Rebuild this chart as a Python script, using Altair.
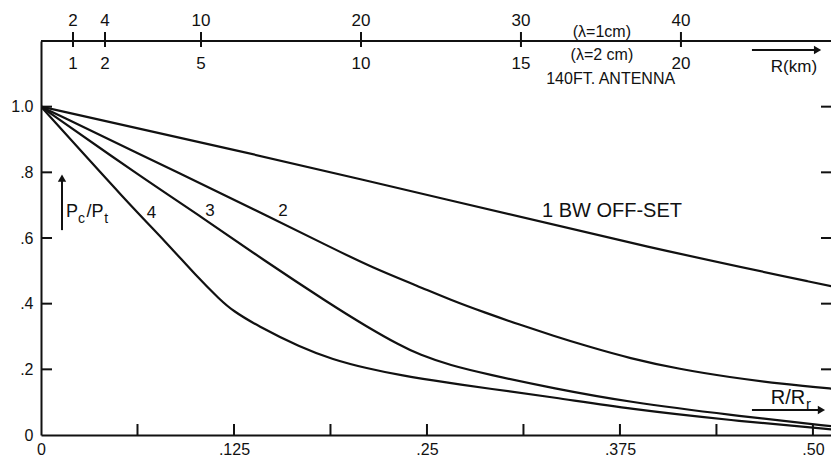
import altair as alt
import pandas as pd

# ---------------- data ----------------
R_1BW = [0, 0.122, 0.265, 0.394, 0.517]
P_1BW = [1.0, 0.873, 0.715, 0.570, 0.448]

R_2 = [0, 0.0965, 0.148, 0.187, 0.215, 0.245, 0.265, 0.288, 0.310, 0.332, 0.354, 0.381, 0.414, 0.446, 0.479, 0.517]
P_2 = [1.0, 0.782, 0.664, 0.573, 0.509, 0.452, 0.412, 0.372, 0.336, 0.302, 0.270, 0.234, 0.200, 0.176, 0.156, 0.139]

R_3 = [0, 0.066, 0.105, 0.144, 0.187, 0.211, 0.2325, 0.245, 0.265, 0.289, 0.332, 0.381, 0.446, 0.517]
P_3 = [1.0, 0.782, 0.661, 0.533, 0.400, 0.330, 0.273, 0.245, 0.212, 0.185, 0.142, 0.100, 0.061, 0.024]

R_4 = [0, 0.0576, 0.0803, 0.101, 0.116, 0.124, 0.140, 0.168, 0.189, 0.211, 0.2325, 0.265, 0.289, 0.332, 0.381, 0.446, 0.517]
P_4 = [1.0, 0.700, 0.591, 0.482, 0.412, 0.379, 0.333, 0.267, 0.230, 0.203, 0.182, 0.158, 0.142, 0.115, 0.079, 0.045, 0.015]

BOTTOM_VALUES = [0, 0.125, 0.25, 0.375, 0.5]
BOTTOM_LABELS = ["0", ".125", ".25", ".375", ".50"]
BOTTOM_TICKS = [0.0625, 0.125, 0.1875, 0.25, 0.3125, 0.375, 0.4375, 0.5]

LEFT_VALUES = [0, 0.2, 0.4, 0.6, 0.8, 1.0]
LEFT_LABELS = ["0", ".2", ".4", ".6", ".8", "1.0"]
SIDE_TICKS = [0.2, 0.4, 0.6, 0.8, 1.0]

KM_1CM = [2, 4, 10, 20, 30, 40]      # upper labels (lambda = 1 cm)
KM_2CM = [1, 2, 5, 10, 15, 20]       # lower labels (lambda = 2 cm)
KM_PER_RR_1CM = 96.5                 # km per unit R/Rr for lambda = 1 cm

# ---------------- layout ----------------
W, H = 790, 394
XMAX = 0.5117
YMAX = 1.2
FONT = "Liberation Sans"
INK = "#111111"


def label_expr(values, labels):
    parts = [f"abs(datum.value - {v}) < 1e-6 ? '{l}'" for v, l in zip(values, labels)]
    return " : ".join(parts) + " : ''"


X_SCALE = alt.Scale(domain=[0, XMAX], nice=False, zero=False)
Y_SCALE = alt.Scale(domain=[0, YMAX], nice=False, zero=False)
X_AXIS = alt.Axis(values=BOTTOM_VALUES, labelExpr=label_expr(BOTTOM_VALUES, BOTTOM_LABELS),
                  tickSize=0, domain=True, domainWidth=2, domainColor=INK, grid=False,
                  labelPadding=6, labelFontSize=16, labelFont=FONT, labelColor=INK,
                  labelFlush=False, labelOverlap=False, title=None)
Y_AXIS = alt.Axis(values=LEFT_VALUES, labelExpr=label_expr(LEFT_VALUES, LEFT_LABELS),
                  tickSize=0, domain=True, domainWidth=2, domainColor=INK, grid=False,
                  labelPadding=8, labelFontSize=16, labelFont=FONT, labelColor=INK,
                  labelFlush=False, labelOverlap=False, title=None)


def X(field="R"):
    return alt.X(f"{field}:Q", scale=X_SCALE, axis=X_AXIS)


def Y(field="P"):
    return alt.Y(f"{field}:Q", scale=Y_SCALE, axis=Y_AXIS)


curves = pd.concat([
    pd.DataFrame({"R": R_1BW, "P": P_1BW, "curve": "1 BW"}),
    pd.DataFrame({"R": R_2, "P": P_2, "curve": "2"}),
    pd.DataFrame({"R": R_3, "P": P_3, "curve": "3"}),
    pd.DataFrame({"R": R_4, "P": P_4, "curve": "4"}),
], ignore_index=True)

lines = alt.Chart(curves).mark_line(color=INK, strokeWidth=2.2, clip=True, interpolate="basis").encode(
    x=X(), y=Y(), detail="curve:N")

# inward ticks
bottom_ticks = alt.Chart(pd.DataFrame({"R": BOTTOM_TICKS})).mark_rule(color=INK, strokeWidth=2).encode(
    x=X(), y=alt.value(H), y2=alt.value(H - 11))
left_ticks = alt.Chart(pd.DataFrame({"P": SIDE_TICKS})).mark_rule(color=INK, strokeWidth=2).encode(
    y=Y(), x=alt.value(0), x2=alt.value(11))
right_ticks = alt.Chart(pd.DataFrame({"P": SIDE_TICKS})).mark_rule(color=INK, strokeWidth=2).encode(
    y=Y(), x=alt.value(W), x2=alt.value(W - 10))

# top km axis
top_line = alt.Chart(pd.DataFrame({"a": [0]})).mark_rule(color=INK, strokeWidth=2).encode(
    x=alt.value(0), x2=alt.value(W), y=alt.value(0))
km = pd.DataFrame({"km1": KM_1CM, "km2": KM_2CM})
km["R"] = km["km1"] / KM_PER_RR_1CM
km["l1"] = km["km1"].astype(str)
km["l2"] = km["km2"].astype(str)
top_ticks = alt.Chart(km).mark_rule(color=INK, strokeWidth=2).encode(
    x=X(), y=alt.value(-9), y2=alt.value(6))
top_up = alt.Chart(km).mark_text(font=FONT, fontSize=17, color=INK, baseline="middle").encode(
    x=X(), y=alt.value(-20), text="l1:N")
top_dn = alt.Chart(km).mark_text(font=FONT, fontSize=17, color=INK, baseline="middle").encode(
    x=X(), y=alt.value(23), text="l2:N")


def ptext(rows, size, align="center", baseline="middle"):
    df = pd.DataFrame(rows, columns=["R", "P", "t"])
    return alt.Chart(df).mark_text(font=FONT, fontSize=size, color=INK, align=align, baseline=baseline).encode(
        x=X(), y=Y(), text="t:N")


def pxtext(rows, size, align="center"):
    df = pd.DataFrame(rows, columns=["R", "py", "t"])
    return alt.Chart(df).mark_text(font=FONT, fontSize=size, color=INK, align=align, baseline="middle").encode(
        x=X(), y=alt.Y("py:Q", scale=None), text="t:N")


labels_num = ptext([(0.0716, 0.676, "4"), (0.1095, 0.682, "3"), (0.1567, 0.682, "2")], 17)
label_bw = ptext([(0.3245, 0.682, "1 BW OFF-SET")], 20, align="left")
pc_big = ptext([(0.0162, 0.664, "P"), (0.0295, 0.664, "/P")], 18, align="left", baseline="alphabetic")
pc_small = ptext([(0.0240, 0.645, "c"), (0.0410, 0.645, "t")], 14, align="left", baseline="alphabetic")
rr_big = ptext([(0.4838, 0.094, "R/R")], 20, align="center", baseline="alphabetic")
rr_small = ptext([(0.4955, 0.080, "r")], 15, align="left", baseline="alphabetic")

top_texts = pxtext([(0.3633, -9, "(λ=1cm)"), (0.3633, 14, "(λ=2 cm)")], 16)
top_texts2 = pxtext([(0.3690, 38, "140FT. ANTENNA")], 16)
top_texts3 = pxtext([(0.4877, 26, "R(km)")], 17)

# arrows
v_shaft = alt.Chart(pd.DataFrame({"R": [0.0136], "P": [0.624], "P2": [0.78]})).mark_rule(
    color=INK, strokeWidth=2).encode(x=X(), y=Y(), y2="P2:Q")
v_head = alt.Chart(pd.DataFrame({"R": [0.0136], "P": [0.782]})).mark_point(
    shape="triangle-up", filled=True, size=70, color=INK, opacity=1).encode(x=X(), y=Y())
h_shaft = alt.Chart(pd.DataFrame({"R": [0.4605], "R2": [0.5040], "P": [0.076]})).mark_rule(
    color=INK, strokeWidth=2).encode(x=X(), x2="R2:Q", y=Y())
h_head = alt.Chart(pd.DataFrame({"R": [0.5055], "P": [0.076]})).mark_point(
    shape="triangle-right", filled=True, size=70, color=INK, opacity=1).encode(x=X(), y=Y())
t_shaft = alt.Chart(pd.DataFrame({"R": [0.4605], "R2": [0.5010]})).mark_rule(
    color=INK, strokeWidth=2).encode(x=X(), x2="R2:Q", y=alt.value(9))
t_head = alt.Chart(pd.DataFrame({"R": [0.5030]})).mark_point(
    shape="triangle-right", filled=True, size=70, color=INK, opacity=1).encode(x=X(), y=alt.value(9))

chart = alt.layer(
    lines, bottom_ticks, left_ticks, right_ticks, top_line, top_ticks, top_up, top_dn,
    labels_num, label_bw, pc_big, pc_small, rr_big, rr_small, top_texts, top_texts2, top_texts3,
    v_shaft, v_head, h_shaft, h_head, t_shaft, t_head,
).properties(
    width=W, height=H,
    autosize=alt.AutoSizeParams(type="none"),
    padding={"left": 33, "top": 33, "right": 0, "bottom": 25},
    background="white",
).configure_view(stroke=None)

chart.save("out.html", embed_options={"renderer": "svg", "actions": False})
